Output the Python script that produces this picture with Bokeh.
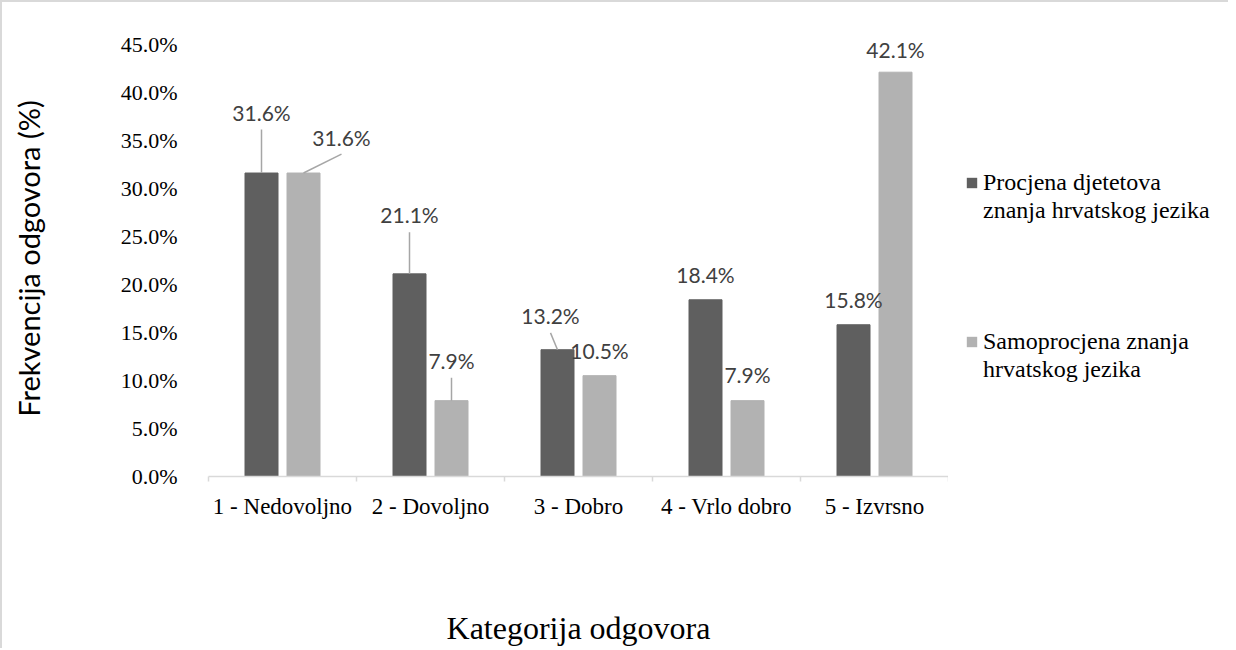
from bokeh.plotting import figure
from bokeh.layouts import row
from bokeh.models import (Legend, LegendItem, FixedTicker, PrintfTickFormatter,
                          ColumnDataSource, Range1d)
from bokeh.core.properties import value
from bokeh.embed import file_html
from bokeh.resources import INLINE

# ---- data ----
categories = ["1 - Nedovoljno", "2 - Dovoljno", "3 - Dobro", "4 - Vrlo dobro", "5 - Izvrsno"]
procjena = [31.6, 21.1, 13.2, 18.4, 15.8]
samoprocjena = [31.6, 7.9, 10.5, 7.9, 42.1]
series_lines = [["Procjena djetetova", "znanja hrvatskog jezika"],
                ["Samoprocjena znanja", "hrvatskog jezika"]]
y_ticks = [0, 5, 10, 15, 20, 25, 30, 35, 40, 45]
x_title = "Kategorija odgovora"
y_title = "Frekvencija odgovora (%)"

# ---- label placement (screen px, styling) ----
dark_dx = [0, 0, -7, 0, 0]
dark_dy = [61, 59, 34, 25, 25]
dark_leader = [True, True, True, False, False]
light_dx = [38, 0, 0, 0, 0]
light_dy = [36, 40, 25, 26, 23]
light_leader = [True, True, False, False, False]

DARK = "#5f5f5f"
LIGHT = "#b2b2b2"
SERIF = "Liberation Serif"
SANS = "Lato"

H = 646
BL, BT, BB = 206, 38, 168
FW = 740
W1 = BL + FW
W2 = 1226 - W1
Y_TOP = 45.4
FH = H - BT - BB
px_x = FW / 5.0
px_y = FH / Y_TOP
off = 21.0 / px_x
bw = 33.0 / px_x

p = figure(width=W1, height=H, output_backend="svg", toolbar_location=None,
           x_range=Range1d(0, 5), y_range=Range1d(0, Y_TOP),
           min_border_left=BL, min_border_right=0, min_border_top=BT,
           min_border_bottom=BB)
p.outline_line_color = None
p.grid.visible = False
p.background_fill_color = "white"
p.border_fill_color = "white"

centers = [i + 0.5 for i in range(len(categories))]
dark_x = [c - off for c in centers]
light_x = [c + off for c in centers]

src_d = ColumnDataSource(dict(x=dark_x, top=procjena,
                              lab=["%.1f%%" % v for v in procjena],
                              dx=dark_dx, dy=[-d for d in dark_dy]))
src_l = ColumnDataSource(dict(x=light_x, top=samoprocjena,
                              lab=["%.1f%%" % v for v in samoprocjena],
                              dx=light_dx, dy=[-d for d in light_dy]))

r1 = p.vbar(x="x", top="top", width=bw, bottom=0, source=src_d,
            fill_color=DARK, line_color=DARK)
r2 = p.vbar(x="x", top="top", width=bw, bottom=0, source=src_l,
            fill_color=LIGHT, line_color=LIGHT)

# leader lines
def leaders(xs, vals, dxs, dys, flags):
    x0, y0, x1, y1 = [], [], [], []
    for x, v, dx, dy, f in zip(xs, vals, dxs, dys, flags):
        if f:
            x0.append(x)
            y0.append(v)
            x1.append(x + dx / px_x)
            y1.append(v + (dy - 17) / px_y)
    return dict(x0=x0, y0=y0, x1=x1, y1=y1)

ld = leaders(dark_x, procjena, dark_dx, dark_dy, dark_leader)
ll = leaders(light_x, samoprocjena, light_dx, light_dy, light_leader)
for d in (ld, ll):
    p.segment(x0="x0", y0="y0", x1="x1", y1="y1", source=ColumnDataSource(d),
              line_color="#a6a6a6", line_width=1.5)

for s in (src_d, src_l):
    p.text(x="x", y="top", text="lab", source=s, x_offset="dx", y_offset="dy",
           text_align="center", text_baseline="middle",
           text_font=value(SANS), text_font_size="21px", text_color="#404040")

# x axis
xa = p.xaxis[0]
xa.ticker = FixedTicker(ticks=centers, minor_ticks=[0, 1, 2, 3, 4, 5])
xa.major_label_overrides = {c: n for c, n in zip(centers, categories)}
xa.major_tick_out = 0
xa.major_tick_in = 0
xa.minor_tick_out = 5
xa.minor_tick_in = 0
xa.minor_tick_line_color = "#d9d9d9"
xa.minor_tick_line_width = 1.5
xa.axis_line_color = "#d9d9d9"
xa.axis_line_width = 1.5
xa.major_label_text_font = SERIF
xa.major_label_text_font_size = "23px"
xa.major_label_text_color = "#000000"
xa.major_label_standoff = 12
xa.axis_label = x_title
xa.axis_label_text_font = SERIF
xa.axis_label_text_font_size = "32px"
xa.axis_label_text_font_style = "normal"
xa.axis_label_text_color = "#000000"
xa.axis_label_standoff = 88

# y axis
ya = p.yaxis[0]
ya.bounds = (0, 45)
ya.ticker = FixedTicker(ticks=y_ticks)
ya.formatter = PrintfTickFormatter(format="%.1f%%")
ya.axis_line_color = None
ya.major_tick_line_color = None
ya.minor_tick_line_color = None
ya.major_label_text_font = SERIF
ya.major_label_text_font_size = "22px"
ya.major_label_text_color = "#000000"
ya.major_label_standoff = 25
ya.axis_label = y_title
ya.axis_label_text_font = SANS
ya.axis_label_text_font_size = "29px"
ya.axis_label_text_font_style = "normal"
ya.axis_label_text_color = "#000000"
ya.axis_label_standoff = 72

# ---- legend panel ----
q = figure(width=W2, height=H, output_backend="svg", toolbar_location=None,
           x_axis_type=None, y_axis_type=None,
           x_range=Range1d(0, 1), y_range=Range1d(0, 1),
           min_border=0)
q.outline_line_color = None
q.grid.visible = False
q.background_fill_color = "white"
q.border_fill_color = "white"

# swatch renderers for the legend (zero-size, no outline -> nothing drawn in the panel)
k1 = q.vbar(x=[0.5], top=[0.5], bottom=0.5, width=0, fill_color=DARK,
            line_color=DARK, line_alpha=0)
k2 = q.vbar(x=[0.5], top=[0.5], bottom=0.5, width=0, fill_color=LIGHT,
            line_color=LIGHT, line_alpha=0)

legend_y = [252, 93]
for lines, rend, ly in zip(series_lines, (k1, k2), legend_y):
    items = [LegendItem(label=lines[0], renderers=[rend])]
    items += [LegendItem(label=t, renderers=[]) for t in lines[1:]]
    lg = Legend(items=items, location=(17, ly), orientation="vertical",
                glyph_width=13, glyph_height=13, label_standoff=5,
                spacing=1, padding=0, margin=0,
                border_line_color=None, background_fill_alpha=0,
                label_text_font=SERIF, label_text_font_size="24px",
                label_text_color="#000000")
    q.add_layout(lg, "center")

layout = row(p, q, styles={"border-left": "2px solid #d9d9d9",
                           "border-top": "2px solid #d9d9d9"})

open("out.html", "w").write(file_html(layout, INLINE))
